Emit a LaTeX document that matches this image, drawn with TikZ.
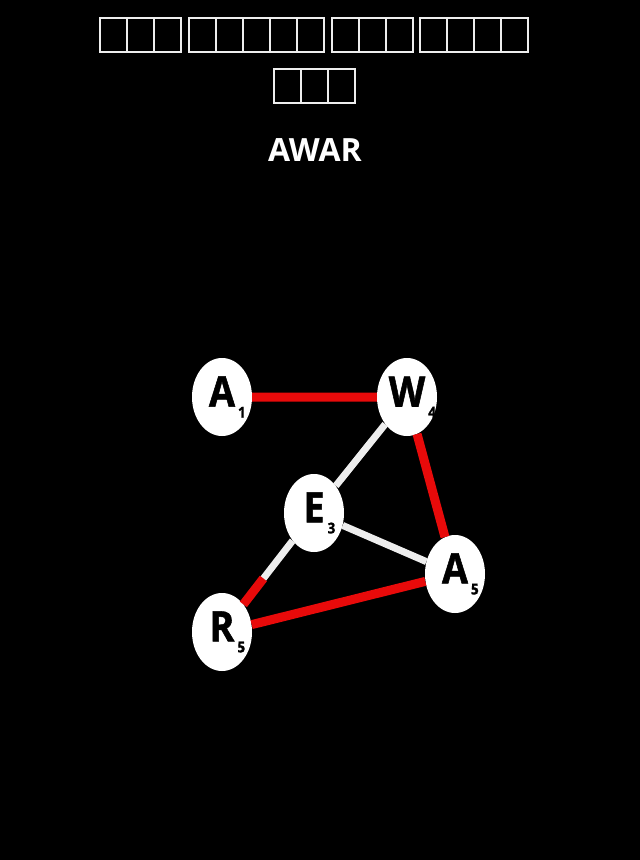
\documentclass[tikz,border=0pt]{standalone}
\usepackage{fontspec}
\setmainfont{Open Sans}
\newfontfamily\nodefont[FakeStretch=0.9,FakeBold=1.2]{Open Sans}
\usetikzlibrary{shapes.geometric, calc}
\definecolor{edgered}{RGB}{232,10,10}
\definecolor{edgewhite}{RGB}{238,238,238}

\begin{document}
\begin{tikzpicture}[x=1pt,y=-1pt]
    \tikzstyle{letter}=[shape=ellipse,fill=white,minimum width=60pt,minimum height=78pt,inner sep=0pt,text=black,font=\nodefont\bfseries\fontsize{42}{42}\selectfont]
    \tikzstyle{glyph}=[draw=edgewhite,line width=1.5pt]
    \newcommand{\sub}[1]{\rlap{\kern3pt\raisebox{-11pt}{\fontsize{15}{15}\selectfont #1}}}

    \fill[black] (0,0) rectangle (640,860);

    % title
    \foreach \x/\n in {100/3, 189/5, 332/3, 420/4}
      \foreach \i in {1,...,\n}
        \draw[glyph] (\x+\i*27-27,18) rectangle +(27,34);
    \foreach \i in {1,...,3}
      \draw[glyph] (274+\i*27-27,69) rectangle +(27,34);
    \node[text=white,font=\bfseries\fontsize{32}{32}\selectfont] (title) at (315,150) {AWAR};

    \node[letter] (A1) at (222,397) {A\sub{1}};
    \node[letter] (W4) at (407,397) {W\sub{4}};
    \node[letter] (E3) at (314,513) {E\sub{3}};
    \node[letter] (A5) at (455,574) {A\sub{5}};
    \node[letter] (R5) at (222,632) {R\sub{5}};
    \coordinate (ER) at ($(R5)!0.45!(E3)$);

    \path[draw,edgewhite,line width=7pt]
    (W4) -- (E3)
    (E3) -- (A5)
    (E3) -- (R5)
    ;
    \path[draw,edgered,line width=9pt]
    (A1) -- (W4)
    (W4) -- (A5)
    (A5) -- (R5)
    (R5) -- (ER)
    ;

  \end{tikzpicture}
\end{document}
